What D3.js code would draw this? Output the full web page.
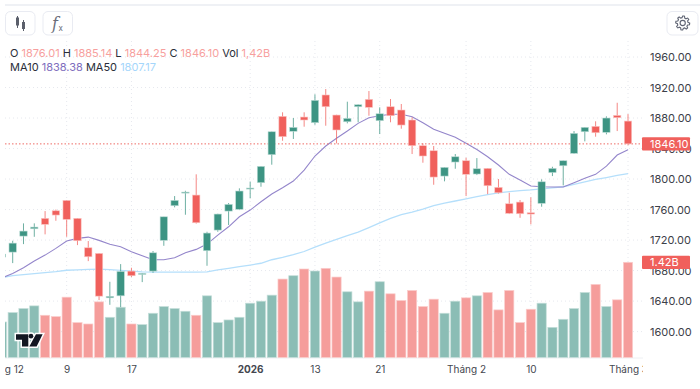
<!DOCTYPE html>
<html>
<head>
<meta charset="utf-8">
<script src="https://cdn.jsdelivr.net/npm/d3@7"></script>
<style>
  html, body { margin: 0; padding: 0; background: #fff; overflow: hidden; }
  svg { display: block; font-family: Inter, "Liberation Sans", sans-serif; }
  .axis text { font-family: Inter, "Liberation Sans", sans-serif; }
</style>
</head>
<body>
<div id="chart"></div>
<script>
// ---- values ----
const opens = [1697.7,1704.2,1725.2,1734.8,1748.5,1758.4,1772.0,1748.5,1709.9,1702.5,1644.3,1646.9,1679.3,1675.0,1679.3,1719.6,1765.0,1782.0,1779.0,1706.0,1733.1,1758.0,1760.3,1786.9,1795.2,1831.9,1882.2,1862.6,1881.3,1873.9,1910.2,1883.9,1875.1,1894.8,1904.5,1876.5,1894.8,1890.5,1877.4,1843.7,1837.1,1803.9,1822.3,1824.0,1806.6,1814.0,1789.1,1767.6,1769.8,1755.8,1768.1,1808.5,1817.4,1833.7,1862.0,1869.1,1861.2,1883.5,1876.01];
const highs = [1703.0,1719.1,1741.9,1741.9,1758.0,1760.0,1772.5,1748.9,1718.7,1702.9,1665.3,1688.5,1683.7,1676.7,1705.6,1750.5,1777.7,1784.6,1806.2,1730.9,1754.5,1768.5,1787.8,1796.4,1817.0,1862.3,1887.5,1880.0,1887.5,1911.1,1918.0,1884.3,1901.4,1898.0,1915.4,1894.0,1904.9,1898.4,1880.9,1846.8,1843.3,1815.7,1832.8,1827.9,1827.5,1814.4,1800.0,1782.0,1772.5,1776.0,1799.6,1816.1,1824.3,1862.9,1868.2,1875.7,1882.2,1900.0,1885.14];
const lows = [1695.0,1689.8,1714.7,1724.3,1727.5,1745.3,1724.3,1713.4,1692.4,1641.3,1635.1,1632.1,1671.5,1664.9,1677.1,1712.5,1762.9,1753.2,1741.6,1686.3,1730.9,1739.7,1759.3,1774.7,1789.9,1818.8,1850.2,1852.5,1868.6,1871.2,1869.9,1846.8,1873.0,1874.4,1883.0,1859.0,1874.4,1866.0,1832.8,1821.4,1792.5,1797.0,1813.5,1777.7,1805.2,1780.3,1781.0,1754.1,1749.2,1740.6,1763.7,1803.9,1791.7,1833.0,1849.4,1855.5,1858.6,1862.9,1844.25];
const closes = [1701.6,1716.0,1731.8,1737.0,1740.6,1752.8,1747.1,1719.1,1698.1,1646.5,1646.2,1678.9,1673.2,1676.3,1703.3,1750.5,1772.0,1782.9,1742.7,1729.2,1754.1,1766.8,1784.3,1788.2,1816.6,1862.0,1855.5,1867.8,1877.4,1903.2,1894.8,1864.3,1879.6,1897.4,1894.0,1885.6,1883.0,1870.8,1843.7,1830.2,1802.6,1815.3,1829.2,1806.2,1813.5,1791.2,1782.0,1755.0,1754.5,1754.1,1796.4,1814.0,1824.0,1859.9,1867.8,1860.7,1880.0,1880.4,1846.10];
const volumes = [0.53,0.67,0.73,0.77,0.63,0.61,0.90,0.52,0.50,0.83,0.60,0.75,0.50,0.49,0.66,0.76,0.73,0.69,0.63,0.92,0.52,0.56,0.60,0.81,0.84,0.93,1.17,1.22,1.32,1.29,1.33,1.20,0.98,0.83,0.99,1.13,0.95,0.85,1.00,0.76,0.87,0.66,0.84,0.89,0.92,0.97,0.71,1.00,0.52,0.72,0.81,0.45,0.57,0.73,0.97,1.09,0.76,0.86,1.42];
const ma10 = [1670.5,1676.3,1683.7,1692.5,1700.3,1709.1,1718.7,1722.2,1723.9,1719.6,1714.4,1711.2,1704.7,1699.4,1694.2,1694.2,1696.8,1703.3,1707.8,1714.7,1726.5,1737.4,1750.5,1759.3,1770.2,1780.3,1788.6,1797.4,1811.8,1830.2,1843.3,1853.4,1862.9,1873.0,1880.4,1883.0,1884.9,1884.9,1881.7,1873.9,1865.2,1859.9,1854.7,1846.8,1838.7,1829.2,1818.4,1806.2,1798.7,1790.8,1789.9,1789.5,1789.5,1795.2,1800.9,1806.2,1817.0,1831.5,1838.38];
const ma50 = [1670.8,1673.4,1674.7,1676.0,1677.4,1678.7,1680.4,1681.0,1681.7,1682.0,1681.3,1680.3,1679.3,1678.4,1678.0,1678.0,1678.0,1678.0,1678.0,1678.4,1680.9,1682.9,1685.1,1687.2,1689.6,1694.2,1697.4,1701.0,1705.0,1710.8,1716.1,1721.0,1725.8,1730.5,1736.4,1742.6,1748.5,1753.2,1756.7,1760.7,1765.2,1768.5,1771.2,1774.0,1777.0,1779.7,1781.9,1783.6,1784.9,1785.8,1787.1,1788.5,1789.9,1793.0,1796.3,1799.5,1802.0,1804.7,1807.17];

const priceTicks = [1960, 1920, 1880, 1840, 1800, 1760, 1720, 1680, 1640, 1600];
const sessionTicks = [0, 6, 12, 23, 29, 35, 43, 49, 58];
const sessionLabels = ['Tháng 12', '9', '17', '2026', '13', '21', 'Tháng 2', '10', 'Tháng 3'];

const legendOhlc = [['O ', '1876.01'], [' H ', '1885.14'], [' L ', '1844.25'], [' C ', '1846.10'], [' Vol ', '1,42B']];
const legendMa = [['MA10 ', '1838.38', '#7e6dbd'], [' MA50 ', '1807.17', '#a5d6fb']];

const lastPrice = 1846.10;
const lastVolume = 1.42;

// ---- layout ----
const width = 700, height = 389;
const plotLeft = 5, plotRight = 643, plotBottom = 358;

const up = '#3d9483', down = '#f0605c';
const upVol = '#8bbdb5', downVol = '#f59d9b';

const svg = d3.select('#chart').append('svg')
  .attr('width', width).attr('height', height);

const x = d3.scaleLinear().domain([0, 58]).range([1.9, 628]);
const y = d3.scaleLinear().domain([1600, 1960]).range([331.6, 57]);
const yVol = d3.scaleLinear().domain([0, lastVolume]).range([357.5, 262.3]);

svg.append('clipPath').attr('id', 'plot')
  .append('rect').attr('x', plotLeft).attr('y', 38)
  .attr('width', plotRight - plotLeft).attr('height', plotBottom - 38);
svg.append('clipPath').attr('id', 'xlabels')
  .append('rect').attr('x', plotLeft).attr('y', plotBottom)
  .attr('width', plotRight - plotLeft).attr('height', 30);

// Top strip
svg.append('rect').attr('x', 5).attr('y', 4).attr('width', 695).attr('height', 2).attr('fill', '#eff1f5');

// Gridlines
const grid = svg.append('g').attr('stroke', '#e6e8ee').attr('stroke-dasharray', '1 3');
priceTicks.forEach(p => {
  grid.append('line').attr('x1', plotLeft).attr('x2', plotRight).attr('y1', y(p)).attr('y2', y(p));
});
sessionTicks.slice(1).forEach(s => {
  grid.append('line').attr('x1', x(s)).attr('x2', x(s)).attr('y1', 41).attr('y2', plotBottom);
});
svg.append('line').attr('x1', plotLeft).attr('x2', plotRight)
  .attr('y1', plotBottom).attr('y2', plotBottom).attr('stroke', '#eef0f3');

const plot = svg.append('g').attr('clip-path', 'url(#plot)');

// Volume bars
plot.selectAll('.vol').data(volumes).join('rect')
  .attr('class', 'vol')
  .attr('x', (d, i) => x(i) - 4.6)
  .attr('width', 9.2)
  .attr('y', d => yVol(d))
  .attr('height', d => yVol(0) - yVol(d))
  .attr('fill', (d, i) => closes[i] >= opens[i] ? upVol : downVol)
  .attr('stroke', (d, i) => closes[i] >= opens[i] ? '#c5dfda' : '#fbcdcc')
  .attr('stroke-width', 0.7);

// Moving averages
const line = d3.line().x((d, i) => x(i)).y(d => y(d)).curve(d3.curveLinear);
plot.append('path').attr('d', line(ma50)).attr('fill', 'none').attr('stroke', '#b5dffb').attr('stroke-width', 1.3);
plot.append('path').attr('d', line(ma10)).attr('fill', 'none').attr('stroke', '#9486cb').attr('stroke-width', 1.1);

// Last price line
plot.append('line').attr('x1', plotLeft).attr('x2', plotRight)
  .attr('y1', y(lastPrice)).attr('y2', y(lastPrice))
  .attr('stroke', '#ee6a66').attr('stroke-dasharray', '1.5 2');

// Candles
const candles = plot.selectAll('.candle').data(opens).join('g').attr('class', 'candle');
candles.append('line')
  .attr('x1', (d, i) => x(i)).attr('x2', (d, i) => x(i))
  .attr('y1', (d, i) => y(highs[i])).attr('y2', (d, i) => y(lows[i]))
  .attr('stroke', (d, i) => closes[i] >= d ? up : down)
  .attr('stroke-opacity', 0.75)
  .attr('stroke-width', 1);
candles.append('rect')
  .attr('x', (d, i) => x(i) - 3.7)
  .attr('width', 7.4)
  .attr('y', (d, i) => y(Math.max(d, closes[i])))
  .attr('height', (d, i) => Math.max(1, Math.abs(y(d) - y(closes[i]))))
  .attr('fill', (d, i) => closes[i] >= d ? up : down)
  .attr('stroke', (d, i) => closes[i] >= d ? '#bcdcd6' : '#fbc5c3')
  .attr('stroke-width', 0.6);

// Watermark logo
const logo = svg.append('g').attr('transform', 'translate(15,332.5) scale(0.333)');
const logoMark = 'M3 5H40V42H21V22H3Z M63 5H83L65 42H43Z';
logo.append('path').attr('d', logoMark).attr('fill', '#fff').attr('stroke', '#fff').attr('stroke-width', 9);
logo.append('circle').attr('cx', 48).attr('cy', 11).attr('r', 7).attr('fill', '#fff').attr('stroke', '#fff').attr('stroke-width', 9);
logo.append('path').attr('d', logoMark).attr('fill', '#131722');
logo.append('circle').attr('cx', 48).attr('cy', 11).attr('r', 7).attr('fill', '#131722');

// Axes
const axisRight = svg.append('g').attr('class', 'axis')
  .attr('transform', 'translate(650,0)')
  .call(d3.axisRight(y).tickValues(priceTicks).tickSize(0).tickPadding(0).tickFormat(d3.format('.2f')));
axisRight.select('.domain').remove();
axisRight.selectAll('text').attr('font-size', '11px').attr('fill', '#3c4048');

const axisBottom = svg.append('g').attr('class', 'axis')
  .attr('clip-path', 'url(#xlabels)')
  .call(d3.axisBottom(x).tickValues(sessionTicks).tickSize(0).tickPadding(0)
    .tickFormat((d, i) => sessionLabels[i]));
axisBottom.select('.domain').remove();
axisBottom.selectAll('text')
  .attr('y', 373).attr('dy', 0)
  .attr('font-size', '10px').attr('fill', '#44474f')
  .attr('font-weight', d => d === 23 ? 700 : 400);

// Last value labels
function valueTag(cy, label) {
  svg.append('rect').attr('x', 642).attr('y', cy - 6.6).attr('width', 48).attr('height', 13.2)
    .attr('rx', 1).attr('fill', down);
  svg.append('text').attr('x', 650).attr('y', cy + 4).attr('font-size', '11px').attr('fill', '#fff').text(label);
}
valueTag(y(lastPrice), d3.format('.2f')(lastPrice));
valueTag(yVol(lastVolume), lastVolume.toFixed(2) + 'B');

// Legend
const legend1 = svg.append('text').attr('x', 10).attr('y', 57).attr('font-size', '11px');
legendOhlc.forEach(([k, v]) => {
  legend1.append('tspan').attr('fill', '#2a2e39').style('white-space', 'pre').text(k);
  legend1.append('tspan').attr('fill', '#f79f9e').text(v);
});
const legend2 = svg.append('text').attr('x', 10).attr('y', 71).attr('font-size', '11px');
legendMa.forEach(([k, v, c]) => {
  legend2.append('tspan').attr('fill', '#2a2e39').style('white-space', 'pre').text(k);
  legend2.append('tspan').attr('fill', c).text(v);
});

// Toolbar buttons
[[5.5, 29.5], [43, 29.5], [667, 31]].forEach(([bx, bw]) => {
  svg.append('rect').attr('x', bx).attr('y', 11.5).attr('width', bw).attr('height', 23.5)
    .attr('rx', 5).attr('fill', '#fff').attr('stroke', '#e9ebf2');
});

const icon = svg.append('g').attr('stroke', '#5b5f6b').attr('fill', '#5b5f6b');
icon.append('path').attr('d', 'M17.5 16V28 M23.5 20V31').attr('stroke-width', 1);
icon.append('rect').attr('x', 16).attr('y', 17.5).attr('width', 3).attr('height', 8).attr('stroke', 'none');
icon.append('rect').attr('x', 22).attr('y', 22).attr('width', 3).attr('height', 7).attr('stroke', 'none');

svg.append('text').attr('x', 52).attr('y', 29).attr('font-family', 'DejaVu Serif')
  .attr('font-style', 'italic').attr('font-size', '16px').attr('fill', '#6a6e7a').text('f');
svg.append('text').attr('x', 58.5).attr('y', 31).attr('font-size', '8px').attr('fill', '#6a6e7a').text('x');

// Gear
const gear = svg.append('g').attr('transform', 'translate(682.7,23)')
  .attr('fill', 'none').attr('stroke', '#5f6473').attr('stroke-width', 1.1);
gear.append('circle').attr('r', 2.6);
gear.append('path').attr('d', d3.lineRadial().curve(d3.curveLinearClosed)(
  d3.range(48).map(k => [k * Math.PI / 24, (k % 6 < 3) ? 7 : 5.3])
));
</script>
</body>
</html>
